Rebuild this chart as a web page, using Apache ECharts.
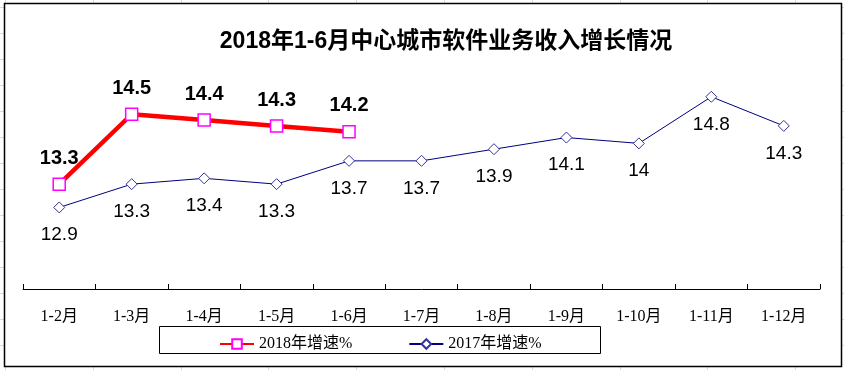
<!DOCTYPE html>
<html>
<head>
<meta charset="utf-8">
<script src="https://cdn.jsdelivr.net/npm/echarts@6/dist/echarts.min.js"></script>
<style>
html,body{margin:0;padding:0;background:#fff;}
#chart{width:844px;height:370px;}
</style>
</head>
<body>
<div id="chart"></div>
<script>
var categories = ['1-2月','1-3月','1-4月','1-5月','1-6月','1-7月','1-8月','1-9月','1-10月','1-11月','1-12月'];
var growth2018 = [13.3, 14.5, 14.4, 14.3, 14.2];
var growth2017 = [12.9, 13.3, 13.4, 13.3, 13.7, 13.7, 13.9, 14.1, 14, 14.8, 14.3];
var seriesNames = ['2018年增速%', '2017年增速%'];
var titleText = '2018年1-6月中心城市软件业务收入增长情况';

var chart = echarts.init(document.getElementById('chart'), null, {renderer:'canvas'});

// decorative spreadsheet gridlines behind the chart frame
var bg = [];
for (var i = 0; i < 11; i++) {
  var x = Math.round(5 + 87.8 * i) + 0.5;
  bg.push({type:'line', shape:{x1:x,y1:0,x2:x,y2:370}, style:{stroke:'#d5dbe6', lineWidth:1}, silent:true});
}
for (var j = 0; j < 15; j++) {
  var y = Math.round(7 + 26 * j) + 0.5;
  bg.push({type:'line', shape:{x1:0,y1:y,x2:844,y2:y}, style:{stroke:'#d5dbe6', lineWidth:1}, silent:true});
}
bg.push({type:'rect', shape:{x:4.5,y:3.5,width:837,height:363}, style:{fill:'#fff', stroke:'#000', lineWidth:1.5}, silent:true});
bg.push({type:'rect', shape:{x:159.5,y:326.5,width:441,height:27}, style:{fill:'#fff', stroke:'#000', lineWidth:1}, silent:true});

var serif = "'Liberation Serif', 'Noto Sans CJK SC', serif";
var sans = "'Liberation Sans', Arial, 'Noto Sans CJK SC', sans-serif";

chart.setOption({
  animation: false,
  backgroundColor: '#fff',
  graphic: bg,
  title: {
    text: titleText,
    left: 441,
    top: 25,
    textAlign: 'center',
    textStyle: {fontSize: 23, fontWeight: 'bold', color: '#000', fontFamily: sans}
  },
  legend: {
    left: 214,
    top: 331,
    itemWidth: 34,
    itemHeight: 12,
    itemGap: 56,
    textStyle: {fontSize: 16, color: '#000', fontFamily: serif},
    data: seriesNames
  },
  grid: {left: 23, right: 24, top: 56, bottom: 81, containLabel: false},
  xAxis: {
    type: 'category',
    data: categories,
    boundaryGap: true,
    axisLine: {lineStyle: {color: '#000', width: 1}},
    axisTick: {show: true, inside: true, length: 5, lineStyle: {color: '#000'}},
    axisLabel: {margin: 20, fontSize: 16, color: '#000', fontFamily: serif, interval: 0},
    splitLine: {show: false}
  },
  yAxis: {
    type: 'value',
    min: 11.5,
    max: 15.5,
    show: false,
    splitLine: {show: false}
  },
  series: [
    {
      name: seriesNames[0],
      type: 'line',
      data: growth2018,
      z: 4,
      symbol: 'rect',
      symbolSize: 12,
      showAllSymbol: true,
      lineStyle: {color: '#ff0000', width: 4.5},
      itemStyle: {color: '#ffffff', borderColor: '#ff00ff', borderWidth: 1.5},
      label: {show: true, position: 'top', distance: 9, fontSize: 20, fontWeight: 'bold', color: '#000', fontFamily: sans},
      emphasis: {disabled: true}
    },
    {
      name: seriesNames[1],
      type: 'line',
      data: growth2017,
      z: 3,
      symbol: 'diamond',
      symbolSize: 11,
      showAllSymbol: true,
      lineStyle: {color: '#000080', width: 1},
      itemStyle: {color: '#ffffff', borderColor: '#33339a', borderWidth: 1},
      label: {show: true, position: 'bottom', distance: 12, fontSize: 19, color: '#000', fontFamily: sans},
      emphasis: {disabled: true}
    }
  ]
});
</script>
</body>
</html>
